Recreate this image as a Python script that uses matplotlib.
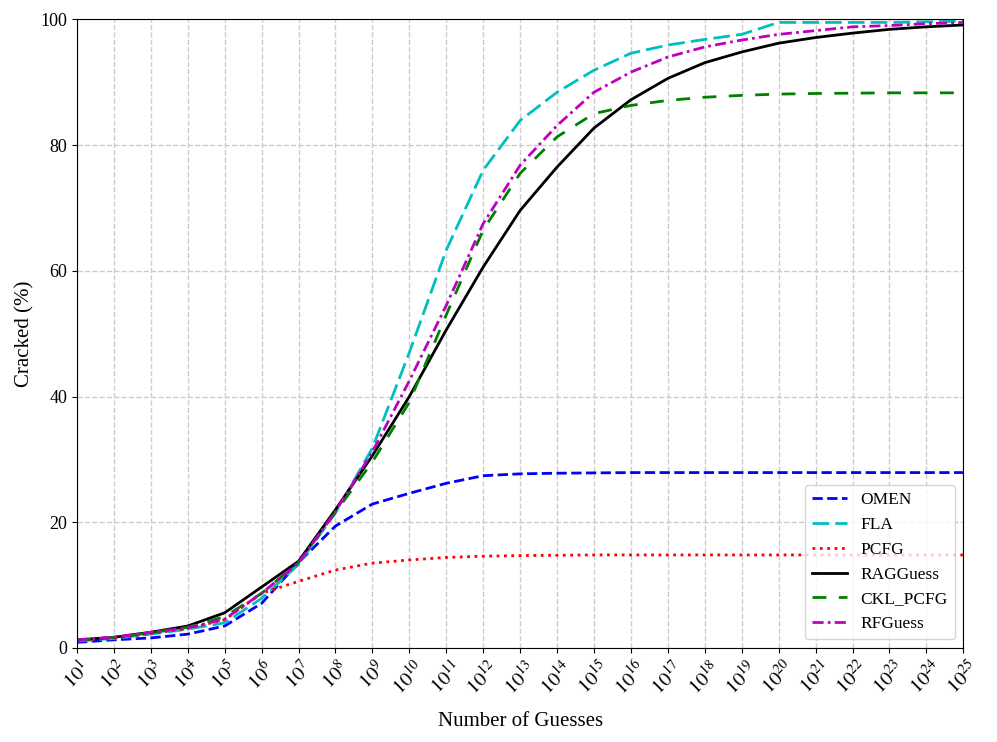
import numpy as np
import matplotlib
matplotlib.use("Agg")
import matplotlib.pyplot as plt

plt.rcParams["font.family"] = ["Liberation Serif", "DejaVu Serif"]
plt.rcParams["mathtext.fontset"] = "stix"

# Data (x = exponent of number of guesses)

exponents = list(range(1, 26))

omen = [0.9, 1.3, 1.6, 2.2, 3.5, 7.1, 13.6, 19.4, 22.9, 24.6, 26.2, 27.4, 27.7,
        27.8, 27.85, 27.9, 27.9, 27.9, 27.9, 27.9, 27.9, 27.9, 27.9, 27.9, 27.9]
fla = [1.1, 1.5, 2.2, 3.0, 4.0, 7.9, 13.3, 21.5, 31.8, 47.0, 63.3, 76.0, 83.9,
       88.4, 91.9, 94.6, 95.9, 96.8, 97.6, 99.5, 99.5, 99.5, 99.5, 99.6, 99.7]
pcfg = [1.2, 1.6, 2.3, 3.1, 4.5, 8.7, 10.6, 12.4, 13.5, 14.0, 14.4, 14.6, 14.7,
        14.75, 14.8, 14.8, 14.8, 14.8, 14.8, 14.8, 14.8, 14.8, 14.8, 14.8, 14.8]
ragguess = [1.3, 1.7, 2.5, 3.5, 5.6, 9.7, 13.8, 22.0, 30.6, 40.0, 50.6, 60.6, 69.6,
            76.5, 82.7, 87.2, 90.6, 93.1, 94.8, 96.2, 97.1, 97.8, 98.4, 98.8, 99.1]
ckl_pcfg = [1.2, 1.7, 2.4, 3.3, 5.0, 8.7, 13.6, 21.6, 29.6, 39.1, 53.0, 66.5, 75.5,
            81.3, 85.0, 86.3, 87.1, 87.6, 87.9, 88.1, 88.2, 88.25, 88.3, 88.3, 88.3]
rfguess = [1.3, 1.7, 2.5, 3.2, 4.6, 8.7, 13.5, 21.7, 31.2, 42.5, 54.5, 67.5, 76.8,
           83.1, 88.4, 91.6, 94.0, 95.6, 96.7, 97.6, 98.2, 98.8, 99.0, 99.3, 99.5]

tick_labels = [rf"$10^{{{e}}}$" for e in exponents]


# Plot

fig = plt.figure(figsize=(9.97, 7.42), dpi=100)
ax = fig.add_axes([0.0772, 0.1267, 0.889, 0.8473])

lw = 2.0
ax.plot(exponents, omen, color="b", linestyle="--", lw=lw, label="OMEN")
ax.plot(exponents, fla, color="c", linestyle=(0, (6, 2.2)), lw=lw, label="FLA")
ax.plot(exponents, pcfg, color="r", linestyle=":", lw=lw, label="PCFG")
ax.plot(exponents, ragguess, color="k", linestyle="-", lw=lw, label="RAGGuess")
ax.plot(exponents, ckl_pcfg, color="g", linestyle=(0, (5, 4.5)), lw=lw, label="CKL_PCFG")
ax.plot(exponents, rfguess, color="m", linestyle=(0, (4, 1.5, 1, 1.5)), lw=lw, label="RFGuess")

ax.set_xlim(1, 25)
ax.set_ylim(0, 100)
ax.set_xticks(exponents)
ax.set_xticklabels(tick_labels, rotation=45, fontsize=14.5)
ax.set_yticks([0, 20, 40, 60, 80, 100])
ax.tick_params(axis="y", labelsize=13)
ax.grid(True, linestyle="--", color="#cccccc", lw=1)

ax.set_xlabel("Number of Guesses", fontsize=15, labelpad=9)
ax.set_ylabel("Cracked (%)", fontsize=15)

ax.legend(loc="lower right", fontsize=12.5, handlelength=2.0)

fig.savefig("out.png", dpi=100)
